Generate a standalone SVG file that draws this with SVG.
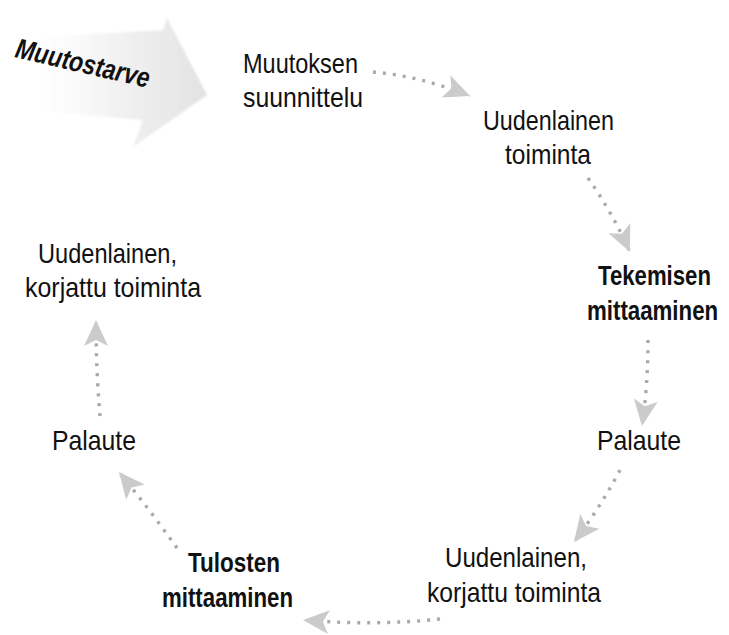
<svg xmlns="http://www.w3.org/2000/svg" width="729" height="635" viewBox="0 0 729 635">
  <style>
    .lbl { font-family: "Liberation Sans", Arial, sans-serif; font-size: 28px; fill: #111; }
    .bold { font-weight: bold; }
    .link { fill: none; stroke: #a9a9a9; stroke-width: 3.4; stroke-dasharray: 3 7; }
  </style>
  <defs>
    <linearGradient id="bigArrowFill" x1="0" y1="0" x2="1" y2="0">
      <stop offset="0" stop-color="#ffffff" stop-opacity="0"/>
      <stop offset="0.5" stop-color="#f3f3f3"/>
      <stop offset="1" stop-color="#e2e2e2"/>
    </linearGradient>
    <filter id="soft" x="-10%" y="-10%" width="120%" height="120%">
      <feGaussianBlur stdDeviation="1.2"/>
    </filter>
    <marker id="head" viewBox="0 0 30 30" refX="28" refY="15" markerWidth="30" markerHeight="30" markerUnits="userSpaceOnUse" orient="auto">
      <path d="M28,15 L2,3 L8,15 L2,27 Z" fill="#cbcbcb"/>
    </marker>
  </defs>

  <!-- background arrow with the trigger label -->
  <g id="muutostarve">
    <path d="M15,38 L163,30 L167,18 L207,95 L133,147 L143,120 L20,110 Z" fill="url(#bigArrowFill)" filter="url(#soft)"/>
    <text class="lbl bold" transform="translate(14,57) rotate(13)" font-size="29" textLength="137" lengthAdjust="spacingAndGlyphs" font-style="italic">Muutostarve</text>
  </g>

  <g id="suunnittelu">
    <text class="lbl" x="243" y="73" textLength="115" lengthAdjust="spacingAndGlyphs">Muutoksen</text>
    <text class="lbl" x="243" y="107" textLength="120" lengthAdjust="spacingAndGlyphs">suunnittelu</text>
  </g>

  <g id="uusi-toiminta">
    <text class="lbl" x="483" y="130" textLength="131" lengthAdjust="spacingAndGlyphs">Uudenlainen</text>
    <text class="lbl" x="505" y="164" textLength="86" lengthAdjust="spacingAndGlyphs">toiminta</text>
  </g>

  <!-- condensed by a horizontal scale so the label stays inside the right edge -->
  <g id="tekemisen-mittaaminen">
    <text class="lbl bold" transform="translate(598,285) scale(0.79,1)" textLength="143" lengthAdjust="spacingAndGlyphs">Tekemisen</text>
    <text class="lbl bold" transform="translate(587,320) scale(0.79,1)" textLength="166" lengthAdjust="spacingAndGlyphs">mittaaminen</text>
  </g>

  <g id="palaute-oikea">
    <text class="lbl" x="597" y="450" textLength="84" lengthAdjust="spacingAndGlyphs">Palaute</text>
  </g>

  <g id="korjattu-oikea">
    <text class="lbl" x="445" y="567" textLength="142" lengthAdjust="spacingAndGlyphs">Uudenlainen,</text>
    <text class="lbl" x="427" y="602" textLength="174" lengthAdjust="spacingAndGlyphs">korjattu toiminta</text>
  </g>

  <g id="tulosten-mittaaminen">
    <text class="lbl bold" x="188" y="572" textLength="92" lengthAdjust="spacingAndGlyphs">Tulosten</text>
    <text class="lbl bold" x="162" y="607" textLength="131" lengthAdjust="spacingAndGlyphs">mittaaminen</text>
  </g>

  <g id="palaute-vasen">
    <text class="lbl" x="52" y="450" textLength="84" lengthAdjust="spacingAndGlyphs">Palaute</text>
  </g>

  <g id="korjattu-vasen">
    <text class="lbl" x="38" y="263" textLength="139" lengthAdjust="spacingAndGlyphs">Uudenlainen,</text>
    <text class="lbl" x="25" y="297" textLength="176" lengthAdjust="spacingAndGlyphs">korjattu toiminta</text>
  </g>

  <!-- dotted cycle connectors -->
  <g id="connectors">
    <path class="link" d="M373,72 Q420,76 470,96" marker-end="url(#head)"/>
    <path class="link" d="M588,178 Q612,212 630,252" marker-end="url(#head)"/>
    <path class="link" d="M648,340 Q648,385 642,426" marker-end="url(#head)"/>
    <path class="link" d="M620,470 Q600,508 574,542" marker-end="url(#head)"/>
    <path class="link" d="M440,619 Q375,626 303,620" marker-end="url(#head)"/>
    <path class="link" d="M177,548 Q150,510 119,472" marker-end="url(#head)"/>
    <path class="link" d="M100,416 Q96,370 96,320" marker-end="url(#head)"/>
  </g>
</svg>
